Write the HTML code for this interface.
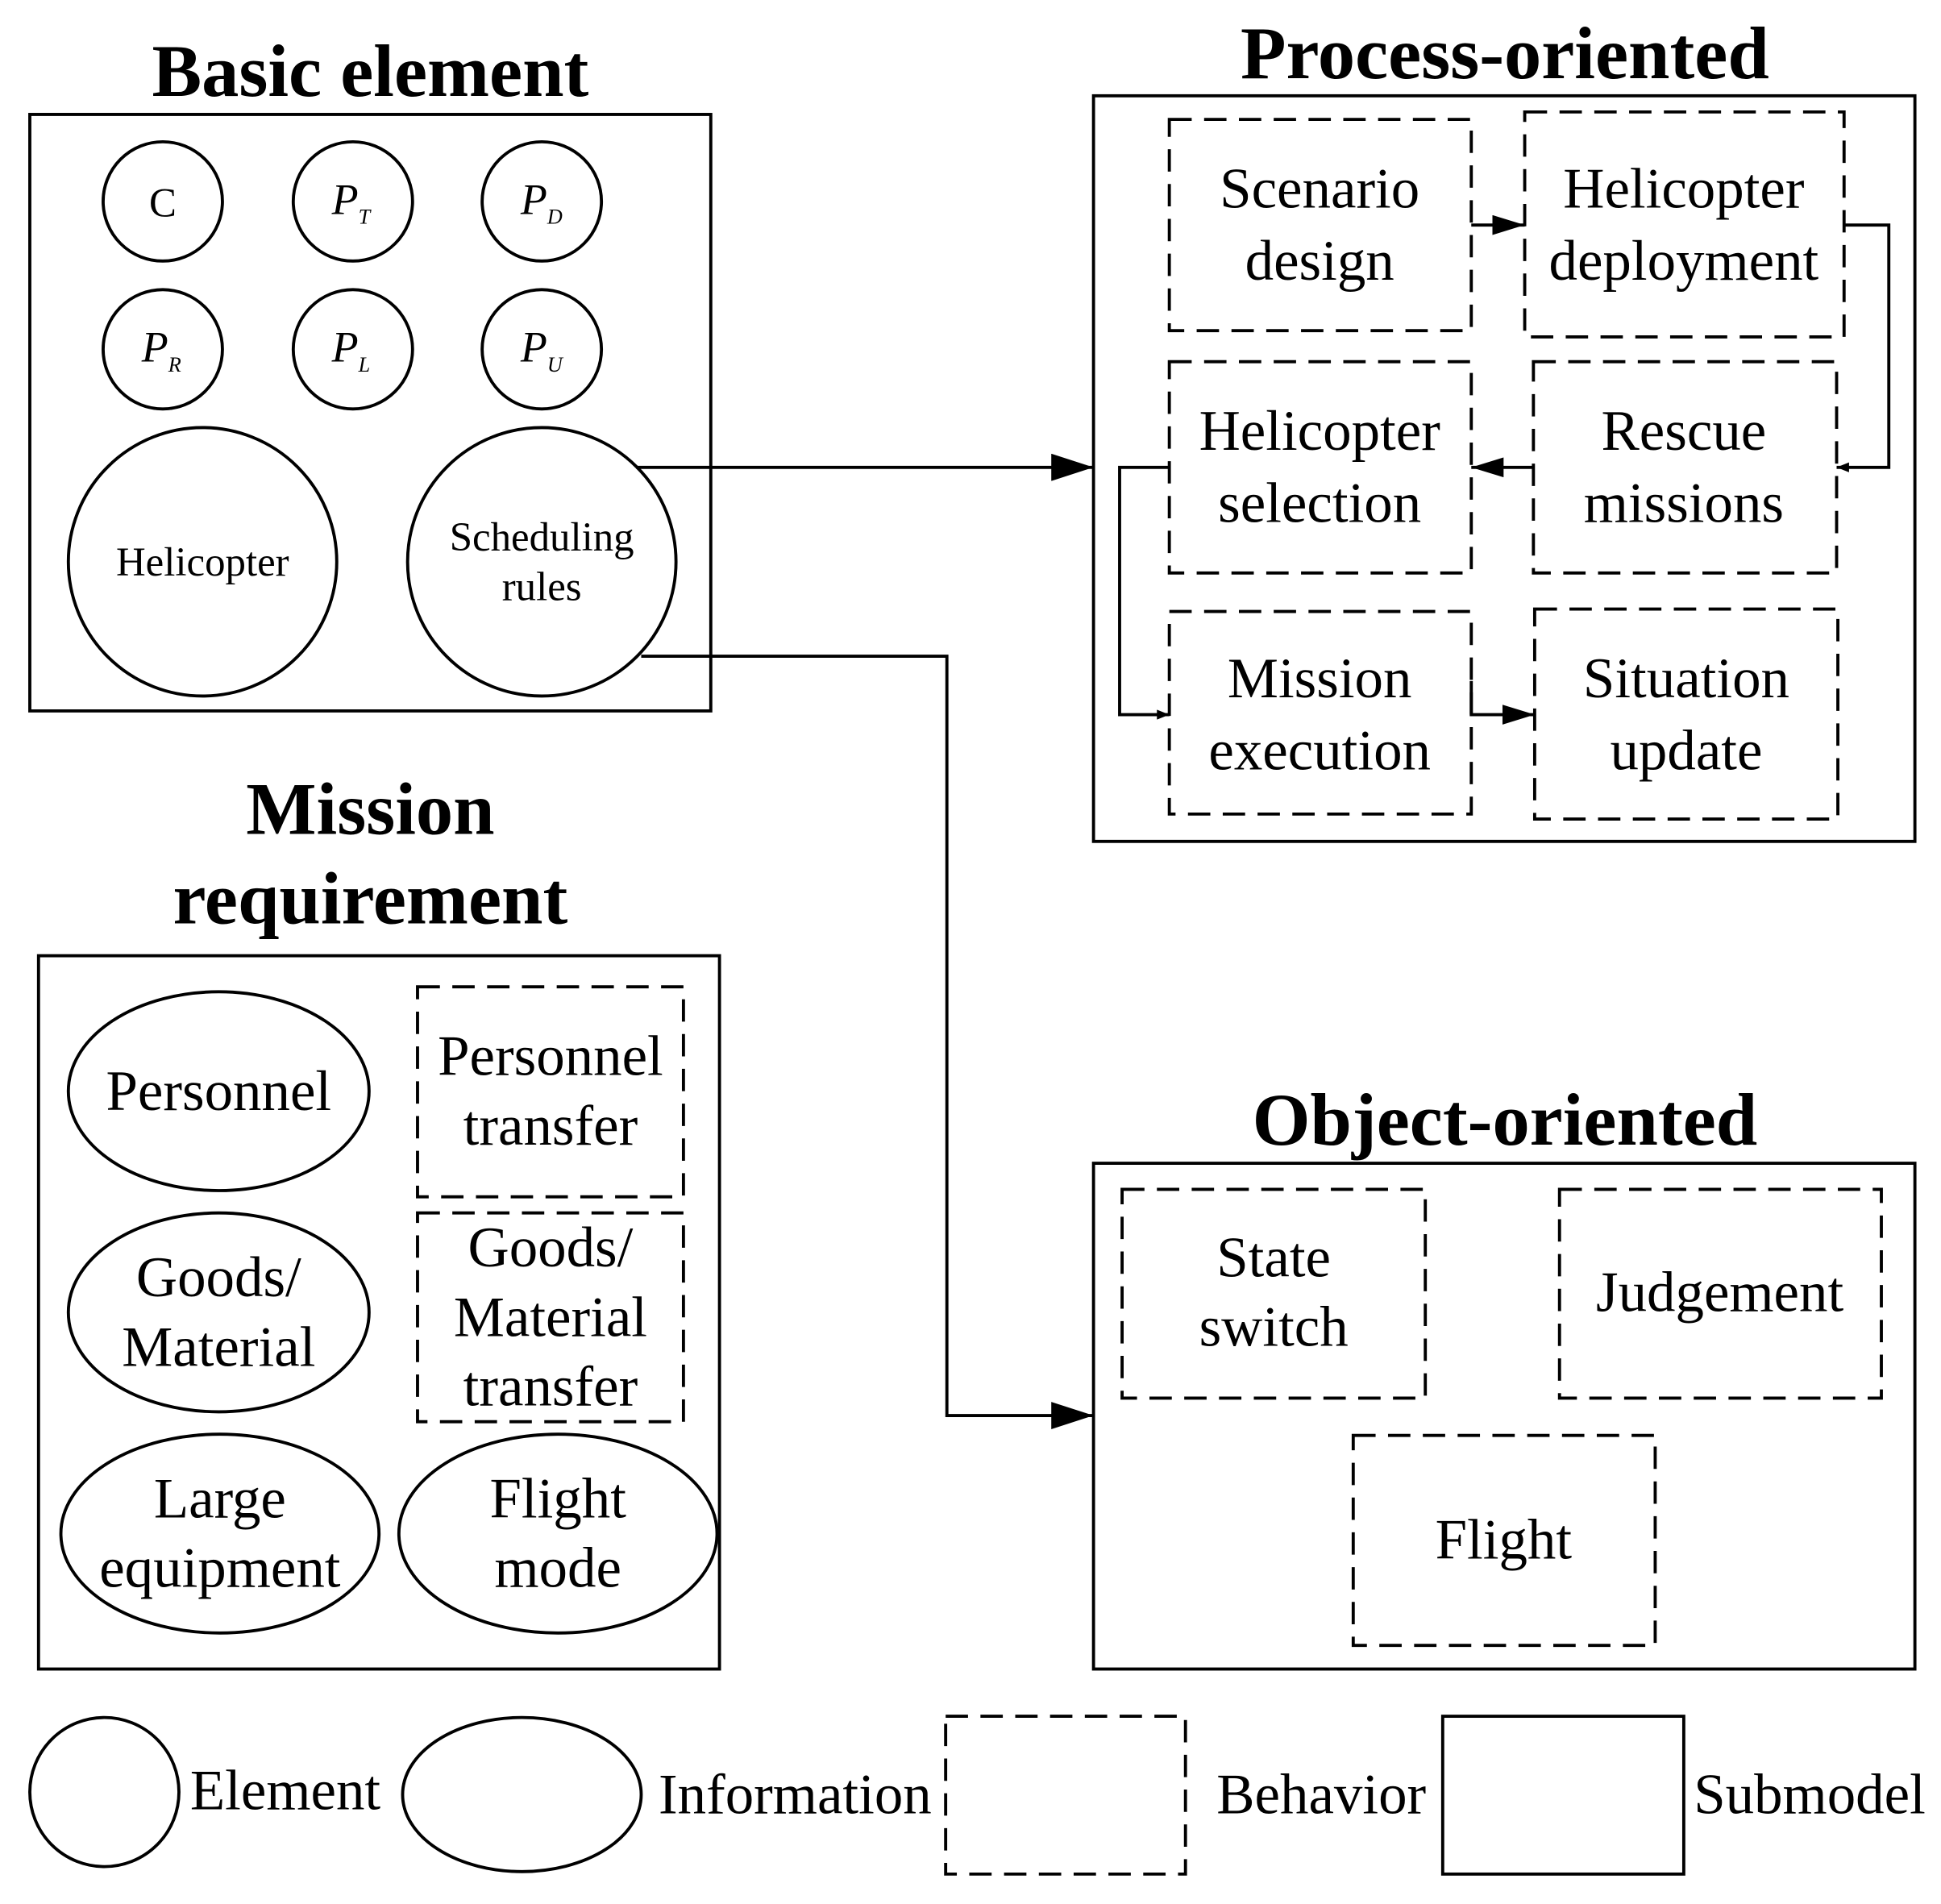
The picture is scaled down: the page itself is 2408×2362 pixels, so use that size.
<!DOCTYPE html>
<html><head><meta charset="utf-8"><style>html,body{margin:0;padding:0;background:#fff}svg{display:block}</style></head>
<body>
<svg width="2408" height="2362" viewBox="0 0 1562 1532" xmlns="http://www.w3.org/2000/svg" font-family="Liberation Serif, serif">
<defs>
<marker id="a" markerWidth="10" markerHeight="8" refX="10" refY="4" orient="auto" markerUnits="userSpaceOnUse" viewBox="0 0 10 8"><path d="M0,0L10,4L0,8z" fill="#000"/></marker>
<marker id="b" markerWidth="34" markerHeight="22" refX="34" refY="11" orient="auto" markerUnits="userSpaceOnUse"><path d="M0,0L34,11L0,22z" fill="#000"/></marker>
<marker id="c" markerWidth="26" markerHeight="16" refX="26" refY="8" orient="auto" markerUnits="userSpaceOnUse"><path d="M0,0L26,8L0,16z" fill="#000"/></marker>
</defs>
<g fill="none" stroke="#000" stroke-width="2.5">
<rect x="24" y="92" width="548" height="480"/>
<circle cx="131" cy="162" r="48"/><circle cx="284" cy="162" r="48"/><circle cx="436" cy="162" r="48"/>
<circle cx="131" cy="281" r="48"/><circle cx="284" cy="281" r="48"/><circle cx="436" cy="281" r="48"/>
<circle cx="163" cy="452" r="108"/><circle cx="436" cy="452" r="108"/>
<rect x="880" y="77" width="661" height="600"/>
<rect x="880" y="936" width="661" height="407"/>
<rect x="31" y="769" width="548" height="574"/>
<ellipse cx="176" cy="878" rx="121" ry="80"/><ellipse cx="176" cy="1056" rx="121" ry="80"/>
<ellipse cx="177" cy="1234" rx="128" ry="80"/><ellipse cx="449" cy="1234" rx="128" ry="80"/>
<circle cx="84" cy="1442" r="60"/><ellipse cx="420" cy="1444" rx="96" ry="62"/>
<rect x="1161" y="1381" width="194" height="127"/>
<g stroke-dasharray="18,10">
<rect x="941" y="96" width="243" height="170"/>
<rect x="1227" y="90" width="257" height="181"/>
<rect x="941" y="291" width="243" height="170"/>
<rect x="1234" y="291" width="244" height="170"/>
<rect x="941" y="492" width="243" height="163"/>
<rect x="1235" y="490" width="244" height="169"/>
<rect x="336" y="794" width="214" height="169"/>
<rect x="336" y="976" width="214" height="168"/>
<rect x="903" y="957" width="244" height="168"/>
<rect x="1255" y="957" width="259" height="168"/>
<rect x="1089" y="1155" width="243" height="169"/>
<rect x="761" y="1381" width="193" height="127"/>
</g>
<path d="M1184,181H1227" marker-end="url(#c)"/>
<path d="M1484,181H1520V376H1478" marker-end="url(#a)"/>
<path d="M1234,376H1184" marker-end="url(#c)"/>
<path d="M941,376H901V575H941" marker-end="url(#a)"/>
<path d="M1184,548V575H1235" marker-end="url(#c)"/>
<path d="M512,376H880" marker-end="url(#b)"/>
<path d="M516,528H762V1139H880" marker-end="url(#b)"/>
</g>
<g font-weight="bold" font-size="60" text-anchor="middle">
<text x="298" y="77">Basic element</text>
<text x="1211" y="63">Process-oriented</text>
<text x="298" y="671">Mission</text>
<text x="298" y="743">requirement</text>
<text x="1211" y="921">Object-oriented</text>
</g>
<g font-size="33" text-anchor="middle">
<text x="131" y="174">C</text>
<text x="163" y="463">Helicopter</text>
<text x="436" y="443">Scheduling</text>
<text x="436" y="483">rules</text>
</g>
<g font-size="35" font-style="italic">
<text x="267" y="172">P<tspan font-size="17" dy="8">T</tspan></text>
<text x="419" y="172">P<tspan font-size="17" dy="8">D</tspan></text>
<text x="114" y="291">P<tspan font-size="17" dy="8">R</tspan></text>
<text x="267" y="291">P<tspan font-size="17" dy="8">L</tspan></text>
<text x="419" y="291">P<tspan font-size="17" dy="8">U</tspan></text>
</g>
<g font-size="46" text-anchor="middle">
<text x="1062" y="167">Scenario</text><text x="1062" y="225">design</text>
<text x="1355" y="167">Helicopter</text><text x="1355" y="225">deployment</text>
<text x="1062" y="362">Helicopter</text><text x="1062" y="420">selection</text>
<text x="1355" y="362">Rescue</text><text x="1355" y="420">missions</text>
<text x="1062" y="561">Mission</text><text x="1062" y="619">execution</text>
<text x="1357" y="561">Situation</text><text x="1357" y="619">update</text>
<text x="176" y="893">Personnel</text>
<text x="176" y="1043">Goods/</text><text x="176" y="1099">Material</text>
<text x="177" y="1221">Large</text><text x="177" y="1277">equipment</text>
<text x="449" y="1221">Flight</text><text x="449" y="1277">mode</text>
<text x="443" y="865">Personnel</text><text x="443" y="921">transfer</text>
<text x="443" y="1019">Goods/</text><text x="443" y="1075">Material</text><text x="443" y="1131">transfer</text>
<text x="1025" y="1027">State</text><text x="1025" y="1083">switch</text>
<text x="1384" y="1055">Judgement</text>
<text x="1210" y="1254">Flight</text>
</g>
<g font-size="46">
<text x="153" y="1456">Element</text>
<text x="530" y="1459">Information</text>
<text x="979" y="1459">Behavior</text>
<text x="1363" y="1459">Submodel</text>
</g>
</svg>
</body></html>
